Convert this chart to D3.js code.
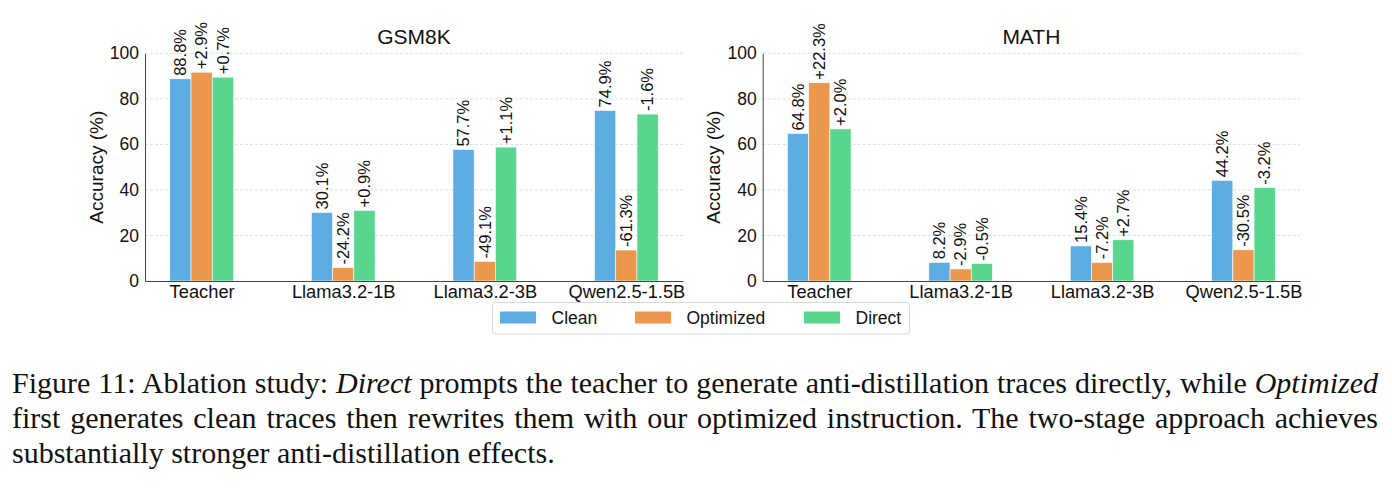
<!DOCTYPE html>
<html>
<head>
<meta charset="utf-8">
<script src="https://cdn.jsdelivr.net/npm/d3@7"></script>
<style>
  body { margin: 0; background: #fff; width: 1392px; height: 488px; overflow: hidden; position: relative; }
  svg text { font-family: "Liberation Sans", Arial, sans-serif; fill: #111; }
  .caption { position: absolute; left: 12px; width: 1366px; font-family: "Liberation Serif", "Times New Roman", serif;
             font-size: 30px; line-height: 1; color: #111; white-space: nowrap; }
  .justify { text-align: justify; text-align-last: justify; }
</style>
</head>
<body>
<svg id="chart" width="1392" height="345"></svg>
<div class="caption justify" style="top:368px">Figure 11: Ablation study: <i>Direct</i> prompts the teacher to generate anti-distillation traces directly, while <i>Optimized</i></div>
<div class="caption justify" style="top:403px">first generates clean traces then rewrites them with our optimized instruction. The two-stage approach achieves</div>
<div class="caption" style="top:438px">substantially stronger anti-distillation effects.</div>
<script>
// categories and series
const models = ["Teacher", "Llama3.2-1B", "Llama3.2-3B", "Qwen2.5-1.5B"];
const seriesNames = ["Clean", "Optimized", "Direct"];
const seriesColors = ["#5DADE2", "#EB984E", "#58D68D"];
const yTicks = [0, 20, 40, 60, 80, 100];

// GSM8K accuracy (%)
const gsmClean = [88.8, 30.1, 57.7, 74.9];
const gsmOptimized = [91.7, 5.9, 8.6, 13.6];
const gsmDirect = [89.5, 31.0, 58.8, 73.3];
const gsmCleanLabels = ["88.8%", "30.1%", "57.7%", "74.9%"];
const gsmOptimizedLabels = ["+2.9%", "-24.2%", "-49.1%", "-61.3%"];
const gsmDirectLabels = ["+0.7%", "+0.9%", "+1.1%", "-1.6%"];

// MATH accuracy (%)
const mathClean = [64.8, 8.2, 15.4, 44.2];
const mathOptimized = [87.1, 5.3, 8.2, 13.7];
const mathDirect = [66.8, 7.7, 18.1, 41.0];
const mathCleanLabels = ["64.8%", "8.2%", "15.4%", "44.2%"];
const mathOptimizedLabels = ["+22.3%", "-2.9%", "-7.2%", "-30.5%"];
const mathDirectLabels = ["+2.0%", "-0.5%", "+2.7%", "-3.2%"];

const svg = d3.select("#chart");
const barWidth = 0.15;

function drawPanel(title, left, right, values, labels) {
    const x = d3.scaleLinear().domain([-0.4, 3.4]).range([left, right]);
    const y = d3.scaleLinear().domain([0, 100]).range([281, 53.3]);
    const g = svg.append("g");

    // grid
    g.selectAll("line.grid").data(yTicks.slice(1)).enter()
        .append("line")
        .attr("x1", left).attr("x2", right)
        .attr("y1", d => y(d)).attr("y2", d => y(d))
        .attr("stroke", "#d4d4d4").attr("stroke-width", 0.8)
        .attr("stroke-dasharray", "3,2");

    // bars + value labels
    values.forEach((vals, s) => {
        const off = (s - 1) * barWidth;
        g.selectAll("rect.s" + s).data(vals).enter()
            .append("rect")
            .attr("x", (d, i) => x(i + off - barWidth / 2))
            .attr("width", x(barWidth) - x(0))
            .attr("y", d => y(d))
            .attr("height", d => y(0) - y(d))
            .attr("fill", seriesColors[s])
            .attr("stroke", "#fff").attr("stroke-width", 0.6);

        g.selectAll("text.s" + s).data(vals).enter()
            .append("text")
            .attr("transform", (d, i) => `translate(${x(i + off)},${y(d) - 3}) rotate(-90)`)
            .attr("dy", "0.35em")
            .attr("font-size", 16.5)
            .text((d, i) => labels[s][i]);
    });

    // axes
    const yAxis = g.append("g").attr("transform", `translate(${left},0)`)
        .call(d3.axisLeft(y).tickValues(yTicks).tickSize(0).tickPadding(6));
    yAxis.attr("font-family", null);
    yAxis.selectAll("text").attr("font-size", 17.5);
    yAxis.select(".domain").attr("stroke", "#444");

    const xAxis = g.append("g").attr("transform", `translate(0,${y(0)})`)
        .call(d3.axisBottom(x).tickValues([0, 1, 2, 3]).tickFormat(i => models[i]).tickSize(0).tickPadding(4));
    xAxis.attr("font-family", null);
    xAxis.selectAll("text").attr("font-size", 18.3);
    xAxis.select(".domain").attr("stroke", "#444");

    g.append("text")
        .attr("x", (left + right) / 2).attr("y", 44)
        .attr("text-anchor", "middle").attr("font-size", 21)
        .text(title);

    g.append("text")
        .attr("transform", `translate(${left - 49},${y(50)}) rotate(-90)`)
        .attr("text-anchor", "middle").attr("dy", "0.35em")
        .attr("font-size", 19)
        .text("Accuracy (%)");
}

drawPanel("GSM8K", 145, 683,
    [gsmClean, gsmOptimized, gsmDirect],
    [gsmCleanLabels, gsmOptimizedLabels, gsmDirectLabels]);
drawPanel("MATH", 762.7, 1300,
    [mathClean, mathOptimized, mathDirect],
    [mathCleanLabels, mathOptimizedLabels, mathDirectLabels]);

// legend
const legend = svg.append("g");
legend.append("rect")
    .attr("x", 492.5).attr("y", 302.5).attr("width", 417).attr("height", 31.5)
    .attr("rx", 3).attr("fill", "#fff").attr("stroke", "#d8d8d8");
const legendX = [500, 635, 804];
seriesNames.forEach((name, i) => {
    legend.append("rect")
        .attr("x", legendX[i]).attr("y", 311.5).attr("width", 36).attr("height", 12)
        .attr("fill", seriesColors[i]);
    legend.append("text")
        .attr("x", legendX[i] + 51.5).attr("y", 324)
        .attr("font-size", 17.5)
        .text(name);
});
</script>
</body>
</html>
